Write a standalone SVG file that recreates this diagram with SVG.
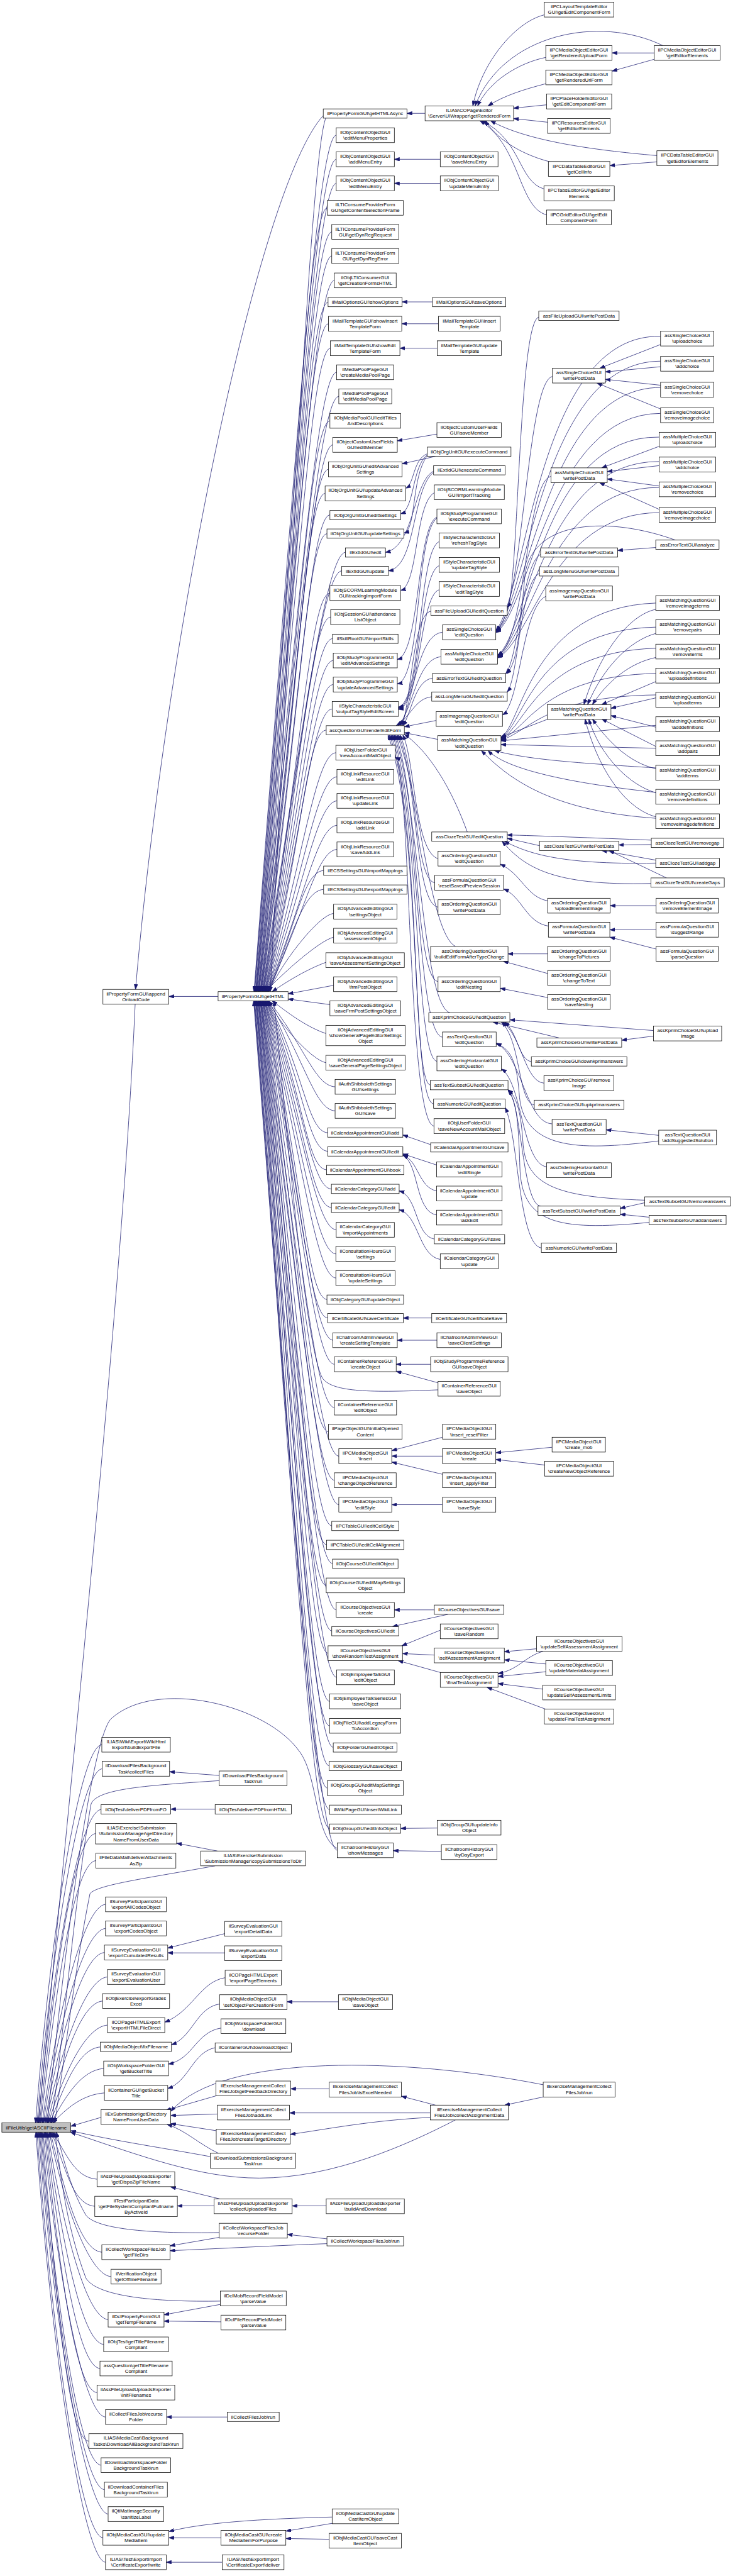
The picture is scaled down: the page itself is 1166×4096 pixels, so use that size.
<svg xmlns="http://www.w3.org/2000/svg" width="1166" height="4096" viewBox="0 0 1166 4096">
<style>
.n rect{fill:#fff;stroke:#000;stroke-width:1.3}
.r rect{fill:#bfbfbf}
.n text{font-family:"Liberation Sans",Arial,Helvetica,sans-serif;font-size:13.3px;text-anchor:middle;fill:#000}
.e path{fill:none;stroke:#191970;stroke-width:1.3;marker-end:url(#ah)}
</style>
<defs>
<marker id="ah" markerWidth="14" markerHeight="10" refX="14" refY="5" orient="auto" markerUnits="userSpaceOnUse"><path d="M0,0 L14,5 L0,10 z" fill="#191970" stroke="#191970" stroke-width="1"/></marker>
</defs>
<rect width="1166" height="4096" fill="#fff"/>
<g transform="scale(0.589)">
<g id="edges" class="e">
<path d="M1148,306 L1099,306"/>
<path d="M1470,40 C1390,60 1300,170 1277,286"/>
<path d="M1790,123 C1620,40 1360,90 1283,286"/>
<path d="M1474,155 C1400,170 1320,220 1290,286"/>
<path d="M1767,143 L1653,143"/>
<path d="M1767,160 L1653,192"/>
<path d="M1474,226 C1420,240 1360,258 1318,286"/>
<path d="M1476,283 L1387,292"/>
<path d="M1479,330 L1387,320"/>
<path d="M1774,420 C1600,405 1420,380 1325,326"/>
<path d="M1486,437 C1420,420 1350,385 1310,326"/>
<path d="M1774,437 L1647,447"/>
<path d="M1469,510 C1400,490 1410,380 1302,326"/>
<path d="M1476,580 C1400,560 1405,390 1296,326"/>
<path d="M1189,430 L1065,430"/>
<path d="M1189,495 L1065,495"/>
<path d="M1168,815 L1086,815"/>
<path d="M1184,874 L1085,874"/>
<path d="M1181,940 L1080,940"/>
<path d="M1180,1172 L1073,1190"/>
<path d="M1176,1232 L1086,1252"/>
<path d="M1154,1225 C1115,1240 1120,1305 1096,1318"/>
<path d="M1154,1228 C1112,1260 1120,1375 1082,1387"/>
<path d="M1154,1230 C1110,1290 1125,1430 1091,1439"/>
<path d="M1171,1272 C1115,1300 1120,1475 1041,1491"/>
<path d="M1171,1275 C1112,1320 1125,1530 1049,1541"/>
<path d="M1173,1330 C1120,1360 1130,1580 1082,1594"/>
<path d="M1180,1396 C1125,1420 1135,1765 1073,1780"/>
<path d="M1180,1399 C1122,1440 1138,1835 1073,1846"/>
<path d="M1186,1462 C1128,1490 1140,1895 1076,1909"/>
<path d="M1186,1527 C1130,1550 1138,1900 1076,1912"/>
<path d="M1186,1592 C1132,1610 1136,1905 1076,1915"/>
<path d="M1164,1650 C1115,1655 1110,1900 1085,1959"/>
<path d="M1195,1707 C1125,1712 1115,1910 1080,1959"/>
<path d="M1191,1773 C1125,1778 1115,1920 1075,1959"/>
<path d="M1168,1831 C1120,1836 1110,1930 1088,1959"/>
<path d="M1166,1881 C1120,1886 1110,1935 1070,1959"/>
<path d="M1178,1945 L1092,1962"/>
<path d="M1182,1996 L1092,1978"/>
<path d="M1262,2246 C1220,2130 1160,2030 1092,1982"/>
<path d="M1183,2318 C1120,2300 1120,2050 1088,1984"/>
<path d="M1174,2383 C1120,2375 1125,2080 1080,1984"/>
<path d="M1183,2449 C1120,2440 1128,2100 1076,1984"/>
<path d="M1230,2555 C1160,2520 1130,2120 1072,1984"/>
<path d="M1183,2650 C1120,2640 1130,2140 1068,1984"/>
<path d="M1215,2734 C1140,2710 1132,2160 1064,1984"/>
<path d="M1195,2800 C1125,2790 1134,2180 1060,1984"/>
<path d="M1180,2865 C1120,2855 1136,2200 1056,1984"/>
<path d="M1162,2929 C1110,2920 1138,2220 1052,1984"/>
<path d="M1171,2980 C1110,2975 1140,2240 1048,1984"/>
<path d="M1455,856 C1400,870 1400,1600 1370,1640"/>
<path d="M1492,1016 C1420,1030 1412,1680 1339,1700"/>
<path d="M1784,930 L1620,994"/>
<path d="M1784,990 L1635,1004"/>
<path d="M1784,1040 L1635,1024"/>
<path d="M1784,1104 L1612,1034"/>
<path d="M1784,908 C1450,900 1425,1600 1339,1702"/>
<path d="M1784,975 C1460,975 1428,1620 1339,1704"/>
<path d="M1784,1046 C1470,1046 1430,1640 1339,1706"/>
<path d="M1784,1116 C1480,1116 1432,1650 1339,1708"/>
<path d="M1488,1286 C1420,1300 1420,1740 1344,1768"/>
<path d="M1780,1205 L1625,1263"/>
<path d="M1780,1257 L1640,1273"/>
<path d="M1780,1312 L1640,1293"/>
<path d="M1780,1375 L1619,1303"/>
<path d="M1780,1180 C1460,1175 1430,1700 1344,1770"/>
<path d="M1780,1246 C1470,1244 1432,1710 1344,1772"/>
<path d="M1780,1316 C1480,1314 1434,1720 1344,1774"/>
<path d="M1780,1384 C1490,1384 1436,1730 1344,1776"/>
<path d="M1460,1497 C1410,1520 1400,1780 1366,1818"/>
<path d="M1771,1478 L1668,1486"/>
<path d="M1824,1458 C1650,1395 1440,1400 1418,1550 C1404,1700 1398,1790 1368,1819"/>
<path d="M1457,1548 C1405,1570 1400,1830 1370,1868"/>
<path d="M1474,1610 C1410,1640 1405,1900 1357,1930"/>
<path d="M1478,1942 L1353,1990"/>
<path d="M1771,1645 C1700,1660 1620,1760 1577,1902"/>
<path d="M1771,1710 C1700,1730 1630,1800 1587,1902"/>
<path d="M1771,1775 C1700,1790 1640,1840 1600,1902"/>
<path d="M1771,1840 L1625,1902"/>
<path d="M1771,1884 L1650,1912"/>
<path d="M1771,1963 L1650,1932"/>
<path d="M1771,2015 L1625,1941"/>
<path d="M1771,2075 C1700,2060 1640,2000 1600,1941"/>
<path d="M1771,2140 C1700,2120 1620,2040 1590,1941"/>
<path d="M1771,2205 C1680,2180 1610,2060 1580,1941"/>
<path d="M1771,1628 C1430,1640 1410,1960 1353,1990"/>
<path d="M1771,1693 C1440,1700 1415,1960 1353,1992"/>
<path d="M1771,1750 C1450,1760 1420,1965 1353,1994"/>
<path d="M1771,1818 C1460,1825 1425,1970 1353,1996"/>
<path d="M1771,1876 C1470,1880 1430,1975 1353,1998"/>
<path d="M1771,1958 L1353,2000"/>
<path d="M1771,2020 L1353,2010"/>
<path d="M1771,2073 C1560,2060 1420,2050 1335,2026"/>
<path d="M1771,2139 C1500,2110 1360,2070 1318,2026"/>
<path d="M1771,2209 C1500,2190 1380,2110 1300,2026"/>
<path d="M1457,2283 L1370,2263"/>
<path d="M1759,2268 C1600,2262 1450,2256 1370,2254"/>
<path d="M1759,2280 L1671,2281"/>
<path d="M1771,2330 C1500,2335 1420,2300 1362,2271"/>
<path d="M1771,2322 L1625,2296"/>
<path d="M1758,2385 C1490,2392 1415,2340 1356,2271"/>
<path d="M1800,2370 L1645,2296"/>
<path d="M1479,2432 C1420,2420 1410,2360 1351,2333"/>
<path d="M1772,2445 L1648,2445"/>
<path d="M1481,2500 C1420,2490 1410,2420 1360,2400"/>
<path d="M1772,2510 L1647,2510"/>
<path d="M1772,2562 L1647,2530"/>
<path d="M1479,2575 L1372,2575"/>
<path d="M1479,2628 L1359,2595"/>
<path d="M1479,2693 L1351,2668"/>
<path d="M1765,2782 L1377,2753"/>
<path d="M1510,2802 L1331,2759"/>
<path d="M1765,2797 L1679,2808"/>
<path d="M1435,2866 C1400,2860 1400,2790 1363,2759"/>
<path d="M1469,2924 C1418,2920 1410,2800 1358,2759"/>
<path d="M1443,2983 C1398,2975 1408,2810 1354,2759"/>
<path d="M1491,3034 C1420,3030 1410,2850 1340,2816"/>
<path d="M1779,3065 L1637,3050"/>
<path d="M1779,3080 C1550,3110 1410,3100 1402,2950 C1396,2870 1380,2830 1340,2818"/>
<path d="M1476,3150 C1410,3140 1410,2920 1354,2886"/>
<path d="M1460,3256 C1410,3250 1410,2980 1372,2942"/>
<path d="M1741,3247 L1675,3262"/>
<path d="M1753,3286 L1675,3278"/>
<path d="M1741,3240 C1500,3232 1418,3200 1412,3080 C1406,2990 1392,2958 1372,2942"/>
<path d="M1753,3300 C1500,3325 1408,3300 1404,3150 C1400,3020 1394,2970 1372,2944"/>
<path d="M1462,3369 C1400,3360 1400,3060 1364,2990"/>
<path d="M1172,3040 C1100,3030 1110,2060 1067,2045"/>
<path d="M1163,3090 L1088,3064"/>
<path d="M1179,3145 L1088,3115"/>
<path d="M1179,3215 C1130,3205 1130,3132 1088,3118"/>
<path d="M1179,3280 C1120,3270 1132,3140 1088,3119"/>
<path d="M1173,3345 C1120,3335 1130,3230 1078,3215"/>
<path d="M1189,3400 C1130,3390 1132,3280 1078,3266"/>
<path d="M1166,3558 L1089,3558"/>
<path d="M1180,3618 L1073,3618"/>
<path d="M1163,3683 L1070,3683"/>
<path d="M1183,3733 L1070,3702"/>
<path d="M1183,3752 C1000,3760 900,3758 872,3722 C825,3650 770,3000 740,2702"/>
<path d="M1195,3880 L1058,3916"/>
<path d="M1195,3931 L1058,3931"/>
<path d="M1195,3980 L1058,3947"/>
<path d="M1491,3907 L1339,3922"/>
<path d="M1471,3955 L1339,3940"/>
<path d="M1195,4062 L1058,4062"/>
<path d="M1173,4346 L1065,4346"/>
<path d="M1210,4358 L1060,4391"/>
<path d="M1189,4401 L1085,4443"/>
<path d="M1173,4468 L1087,4464"/>
<path d="M1189,4515 L1075,4483"/>
<path d="M1449,4451 L1362,4459"/>
<path d="M1474,4492 L1362,4481"/>
<path d="M1467,4458 C1420,4470 1400,4508 1345,4518"/>
<path d="M1474,4513 L1345,4526"/>
<path d="M1466,4560 L1345,4545"/>
<path d="M1479,4616 L1315,4555"/>
<path d="M1181,4935 L1082,4936"/>
<path d="M1192,4998 L1062,4996"/>
<path d="M914,5404 L775,5404"/>
<path d="M1467,5661 L1363,5683"/>
<path d="M1176,5683 L1084,5659"/>
<path d="M1162,5704 L782,5704"/>
<path d="M1162,5716 C1000,5725 900,5745 784,5762"/>
<path d="M1230,5723 C1100,5790 900,5880 700,5880 C540,5880 380,5820 190,5756"/>
<path d="M1467,5628 C1100,5555 600,5540 461,5700"/>
<path d="M889,5639 L785,5639"/>
<path d="M590,5656 L448,5697"/>
<path d="M587,5707 L461,5711"/>
<path d="M584,5752 L461,5733"/>
<path d="M590,5813 C540,5790 500,5750 451,5735"/>
<path d="M568,5822 C450,5800 300,5778 191,5752"/>
<path d="M273,5716 L191,5740"/>
<path d="M592,4793 L458,4783"/>
<path d="M592,4807 C400,4820 262,4828 246,4870 C205,5100 170,5500 140,5731"/>
<path d="M581,4884 L461,4884"/>
<path d="M587,4997 L477,4976"/>
<path d="M581,5037 C400,5070 262,5088 243,5112 C205,5300 175,5550 148,5731"/>
<path d="M607,5220 L453,5259"/>
<path d="M607,5272 L453,5272"/>
<path d="M608,5339 C540,5350 520,5430 445,5459"/>
<path d="M593,5410 C530,5420 520,5500 463,5520"/>
<path d="M597,5475 C530,5485 520,5560 455,5572"/>
<path d="M581,5528 C520,5540 510,5620 453,5638"/>
<path d="M911,4990 C850,4960 860,4800 810,4730 C720,4600 420,4530 300,4640 C250,4690 180,5200 128,5731"/>
<path d="M880,318 C840,420 790,1500 730,2677"/>
<path d="M873,312 C700,500 450,1700 366,2671"/>
<path d="M589,2690 L456,2690"/>
<path d="M365,2711 C330,3500 200,4700 104,5731"/>
<path d="M593,5936 L461,5904"/>
<path d="M578,5955 L479,5955"/>
<path d="M881,5955 L789,5955"/>
<path d="M592,6027 C420,6030 262,6020 232,5980 C185,5900 165,5800 152,5756"/>
<path d="M592,6040 L459,6063"/>
<path d="M883,6057 C750,6062 600,6070 459,6076"/>
<path d="M883,6044 L776,6032"/>
<path d="M595,6212 C420,6215 262,6200 232,6150 C175,6000 162,5850 148,5756"/>
<path d="M595,6221 L443,6249"/>
<path d="M597,6268 L443,6266"/>
<path d="M614,6525 L450,6525"/>
<path d="M897,6795 C700,6800 550,6810 456,6834"/>
<path d="M897,6812 L772,6833"/>
<path d="M889,6855 L772,6853"/>
<path d="M597,6851 L456,6851"/>
<path d="M600,6917 L449,6917"/>
<path d="M275,4710 C215,4715 136,5220 96,5731"/>
<path d="M276,4775 C216,4780 140,5253 100,5731"/>
<path d="M273,4885 C213,4890 143,5308 103,5731"/>
<path d="M258,4950 C198,4955 147,5341 107,5731"/>
<path d="M259,5023 C199,5028 150,5377 110,5731"/>
<path d="M285,5141 C225,5146 154,5436 114,5731"/>
<path d="M285,5206 C225,5211 157,5468 117,5731"/>
<path d="M282,5271 C222,5276 161,5501 121,5731"/>
<path d="M290,5337 C230,5342 164,5534 124,5731"/>
<path d="M277,5402 C217,5407 168,5566 128,5731"/>
<path d="M290,5467 C230,5472 171,5599 131,5731"/>
<path d="M271,5526 C211,5531 175,5629 135,5731"/>
<path d="M280,5584 C220,5589 178,5657 138,5731"/>
<path d="M282,5650 C222,5655 182,5690 142,5731"/>
<path d="M262,5883 C202,5878 182,5819 142,5756"/>
<path d="M256,5956 C196,5951 179,5856 139,5756"/>
<path d="M275,6080 C215,6075 176,5918 136,5756"/>
<path d="M300,6146 C240,6141 173,5951 133,5756"/>
<path d="M292,6262 C232,6257 169,6009 129,5756"/>
<path d="M280,6329 C220,6324 166,6042 126,5756"/>
<path d="M270,6394 C210,6389 163,6075 123,5756"/>
<path d="M262,6459 C202,6454 160,6107 120,5756"/>
<path d="M285,6525 C225,6520 156,6140 116,5756"/>
<path d="M240,6590 C180,6585 153,6173 113,5756"/>
<path d="M273,6655 C213,6650 150,6206 110,5756"/>
<path d="M282,6721 C222,6716 147,6238 107,5756"/>
<path d="M292,6787 C232,6782 144,6271 104,5756"/>
<path d="M278,6851 C218,6846 140,6303 100,5756"/>
<path d="M285,6917 C225,6912 137,6336 97,5756"/>
<path d="M908,365 C853,369 786,1405 686,2677"/>
<path d="M908,430 C853,434 787,1441 687,2677"/>
<path d="M908,495 C853,499 788,1477 688,2677"/>
<path d="M884,561 C829,565 790,1513 690,2677"/>
<path d="M896,626 C841,630 791,1549 691,2677"/>
<path d="M896,691 C841,695 792,1585 692,2677"/>
<path d="M903,757 C848,761 793,1621 693,2677"/>
<path d="M886,816 C831,820 794,1654 694,2677"/>
<path d="M887,874 C832,878 796,1685 696,2677"/>
<path d="M892,940 C837,944 797,1722 697,2677"/>
<path d="M909,1005 C854,1009 798,1757 698,2677"/>
<path d="M915,1070 C860,1074 799,1793 699,2677"/>
<path d="M891,1136 C836,1140 800,1829 700,2677"/>
<path d="M899,1201 C844,1205 802,1865 702,2677"/>
<path d="M887,1267 C832,1271 803,1902 703,2677"/>
<path d="M878,1332 C823,1336 804,1937 704,2677"/>
<path d="M891,1390 C836,1394 805,1969 705,2677"/>
<path d="M883,1441 C828,1445 806,1997 706,2677"/>
<path d="M933,1491 C878,1495 808,2025 708,2677"/>
<path d="M923,1541 C868,1545 809,2052 709,2677"/>
<path d="M891,1601 C836,1605 810,2085 710,2677"/>
<path d="M893,1666 C838,1670 811,2121 711,2677"/>
<path d="M898,1724 C843,1728 812,2153 712,2677"/>
<path d="M900,1783 C845,1787 814,2185 714,2677"/>
<path d="M900,1848 C845,1852 815,2221 715,2677"/>
<path d="M897,1914 C842,1918 816,2257 716,2677"/>
<path d="M881,1971 C826,1975 817,2289 717,2677"/>
<path d="M907,2032 C852,2036 818,2322 718,2677"/>
<path d="M910,2097 C855,2101 820,2358 720,2677"/>
<path d="M910,2162 C855,2166 821,2394 721,2677"/>
<path d="M910,2228 C855,2232 822,2430 722,2677"/>
<path d="M910,2293 C855,2297 823,2466 723,2677"/>
<path d="M874,2350 C819,2354 800,2497 724,2677"/>
<path d="M874,2401 C819,2405 790,2525 726,2677"/>
<path d="M901,2466 C860,2470 760,2600 726,2677"/>
<path d="M901,2530 C860,2540 750,2640 718,2677"/>
<path d="M880,2598 C820,2620 760,2660 735,2677"/>
<path d="M901,2660 L778,2683"/>
<path d="M891,2712 L778,2697"/>
<path d="M880,2790 C820,2770 760,2720 735,2702"/>
<path d="M880,2869 C840,2860 750,2760 726,2702"/>
<path d="M905,2934 C850,2930 826,2830 726,2702"/>
<path d="M905,2999 C850,2995 825,2865 725,2702"/>
<path d="M885,3058 C830,3054 823,2898 723,2702"/>
<path d="M885,3108 C830,3104 822,2925 722,2702"/>
<path d="M882,3158 C827,3154 821,2953 721,2702"/>
<path d="M895,3210 C840,3206 820,2981 720,2702"/>
<path d="M895,3260 C840,3256 819,3009 719,2702"/>
<path d="M908,3320 C853,3316 817,3042 717,2702"/>
<path d="M907,3385 C852,3381 816,3078 716,2702"/>
<path d="M907,3450 C852,3446 815,3113 715,2702"/>
<path d="M883,3508 C828,3504 814,3145 714,2702"/>
<path d="M885,3558 C830,3554 812,3173 712,2702"/>
<path d="M899,3618 C844,3614 811,3206 711,2702"/>
<path d="M903,3683 C848,3679 810,3242 710,2702"/>
<path d="M903,3800 C848,3796 809,3306 709,2702"/>
<path d="M887,3865 C832,3861 808,3342 708,2702"/>
<path d="M915,3931 C860,3927 806,3378 706,2702"/>
<path d="M903,3996 C848,3992 805,3414 705,2702"/>
<path d="M915,4062 C860,4058 804,3450 704,2702"/>
<path d="M896,4119 C841,4115 803,3481 703,2702"/>
<path d="M882,4170 C827,4166 802,3509 702,2702"/>
<path d="M898,4221 C843,4217 800,3537 700,2702"/>
<path d="M881,4280 C826,4276 799,3570 699,2702"/>
<path d="M908,4346 C853,4342 798,3606 698,2702"/>
<path d="M896,4403 C841,4399 797,3638 697,2702"/>
<path d="M886,4463 C831,4459 796,3671 696,2702"/>
<path d="M909,4528 C854,4524 794,3706 694,2702"/>
<path d="M890,4593 C835,4589 793,3742 693,2702"/>
<path d="M890,4659 C835,4655 792,3778 692,2702"/>
<path d="M900,4717 C845,4713 791,3810 691,2702"/>
<path d="M889,4767 C834,4763 790,3838 690,2702"/>
<path d="M884,4827 C829,4823 788,3871 688,2702"/>
<path d="M890,4885 C835,4881 787,3903 687,2702"/>
<path d="M890,4936 C835,4932 786,3931 686,2702"/>
<path d="M911,4995 C856,4991 785,3963 685,2702"/>
</g>
<g id="nodes">
<g id="root" class="n r"><rect x="5" y="5731" width="186" height="25"/><text x="98" y="5748">ilFileUtils\getASCIIFilename</text></g>
<g id="A1" class="n"><rect x="278" y="2671" width="178" height="40"/><text x="367" y="2687.5">ilPropertyFormGUI\append</text><text x="367" y="2703">OnloadCode</text></g>
<g id="B1" class="n"><rect x="275" y="4690" width="185" height="40"/><text x="367.5" y="4706.5">ILIAS\Wiki\Export\WikiHtml</text><text x="367.5" y="4722">Export\buildExportFile</text></g>
<g id="B2" class="n"><rect x="276" y="4755" width="182" height="40"/><text x="367" y="4771.5">ilDownloadFilesBackground</text><text x="367" y="4787">Task\collectFiles</text></g>
<g id="B3" class="n"><rect x="273" y="4872" width="188" height="25"/><text x="367" y="4889">ilObjTest\deliverPDFfromFO</text></g>
<g id="B4" class="n"><rect x="258" y="4923" width="219" height="55"/><text x="367.5" y="4939.5">ILIAS\Exercise\Submission</text><text x="367.5" y="4955">\SubmissionManager\getDirectory</text><text x="367.5" y="4970.5">NameFromUserData</text></g>
<g id="B5" class="n"><rect x="259" y="5003" width="216" height="40"/><text x="367" y="5019.5">ilFileDataMail\deliverAttachments</text><text x="367" y="5035">AsZip</text></g>
<g id="B6" class="n"><rect x="285" y="5121" width="164" height="40"/><text x="367" y="5137.5">ilSurveyParticipantsGUI</text><text x="367" y="5153">\exportAllCodesObject</text></g>
<g id="B7" class="n"><rect x="285" y="5186" width="164" height="40"/><text x="367" y="5202.5">ilSurveyParticipantsGUI</text><text x="367" y="5218">\exportCodesObject</text></g>
<g id="B8" class="n"><rect x="282" y="5251" width="171" height="40"/><text x="367.5" y="5267.5">ilSurveyEvaluationGUI</text><text x="367.5" y="5283">\exportCumulatedResults</text></g>
<g id="B9" class="n"><rect x="290" y="5317" width="155" height="40"/><text x="367.5" y="5333.5">ilSurveyEvaluationGUI</text><text x="367.5" y="5349">\exportEvaluationUser</text></g>
<g id="B10" class="n"><rect x="277" y="5382" width="181" height="40"/><text x="367.5" y="5398.5">ilObjExercise\exportGrades</text><text x="367.5" y="5414">Excel</text></g>
<g id="B11" class="n"><rect x="290" y="5447" width="155" height="40"/><text x="367.5" y="5463.5">ilCOPageHTMLExport</text><text x="367.5" y="5479">\exportHTMLFileDirect</text></g>
<g id="B12" class="n"><rect x="271" y="5513" width="192" height="25"/><text x="367" y="5530">ilObjMediaObject\fixFilename</text></g>
<g id="B13" class="n"><rect x="280" y="5564" width="175" height="40"/><text x="367.5" y="5580.5">ilObjWorkspaceFolderGUI</text><text x="367.5" y="5596">\getBucketTitle</text></g>
<g id="B14" class="n"><rect x="282" y="5630" width="171" height="40"/><text x="367.5" y="5646.5">ilContainerGUI\getBucket</text><text x="367.5" y="5662">Title</text></g>
<g id="B15" class="n"><rect x="273" y="5695" width="188" height="40"/><text x="367" y="5711.5">ilExSubmission\getDirectory</text><text x="367" y="5727">NameFromUserData</text></g>
<g id="B16" class="n"><rect x="262" y="5863" width="210" height="40"/><text x="367" y="5879.5">ilAssFileUploadUploadsExporter</text><text x="367" y="5895">\getDispoZipFileName</text></g>
<g id="B17" class="n"><rect x="256" y="5929" width="223" height="55"/><text x="367.5" y="5945.5">ilTestParticipantData</text><text x="367.5" y="5961">\getFileSystemCompliantFullname</text><text x="367.5" y="5976.5">ByActiveId</text></g>
<g id="B18" class="n"><rect x="275" y="6060" width="184" height="40"/><text x="367" y="6076.5">ilCollectWorkspaceFilesJob</text><text x="367" y="6092">\getFileDirs</text></g>
<g id="B19" class="n"><rect x="300" y="6126" width="135" height="40"/><text x="367.5" y="6142.5">ilVerificationObject</text><text x="367.5" y="6158">\getOfflineFilename</text></g>
<g id="B20" class="n"><rect x="292" y="6242" width="151" height="40"/><text x="367.5" y="6258.5">ilDclPropertyFormGUI</text><text x="367.5" y="6274">\getTempFilename</text></g>
<g id="B21" class="n"><rect x="280" y="6309" width="175" height="40"/><text x="367.5" y="6325.5">ilObjTest\getTitleFilename</text><text x="367.5" y="6341">Compliant</text></g>
<g id="B22" class="n"><rect x="270" y="6374" width="195" height="40"/><text x="367.5" y="6390.5">assQuestion\getTitleFilename</text><text x="367.5" y="6406">Compliant</text></g>
<g id="B23" class="n"><rect x="262" y="6439" width="210" height="40"/><text x="367" y="6455.5">ilAssFileUploadUploadsExporter</text><text x="367" y="6471">\initFilenames</text></g>
<g id="B24" class="n"><rect x="285" y="6505" width="165" height="40"/><text x="367.5" y="6521.5">ilCollectFilesJob\recurse</text><text x="367.5" y="6537">Folder</text></g>
<g id="B25" class="n"><rect x="240" y="6570" width="254" height="40"/><text x="367" y="6586.5">ILIAS\MediaCast\Background</text><text x="367" y="6602">Tasks\DownloadAllBackgroundTask\run</text></g>
<g id="B26" class="n"><rect x="273" y="6635" width="188" height="40"/><text x="367" y="6651.5">ilDownloadWorkspaceFolder</text><text x="367" y="6667">BackgroundTask\run</text></g>
<g id="B27" class="n"><rect x="282" y="6701" width="170" height="40"/><text x="367" y="6717.5">ilDownloadContainerFiles</text><text x="367" y="6733">BackgroundTask\run</text></g>
<g id="B28" class="n"><rect x="292" y="6767" width="150" height="40"/><text x="367" y="6783.5">ilQtiMatImageSecurity</text><text x="367" y="6799">\sanitizeLabel</text></g>
<g id="B29" class="n"><rect x="278" y="6831" width="178" height="40"/><text x="367" y="6847.5">ilObjMediaCastGUI\update</text><text x="367" y="6863">MediaItem</text></g>
<g id="B30" class="n"><rect x="285" y="6897" width="164" height="40"/><text x="367" y="6913.5">ILIAS\Test\ExportImport</text><text x="367" y="6929">\CertificateExport\write</text></g>
<g id="G" class="n"><rect x="589" y="2677" width="189" height="25"/><text x="683.5" y="2694">ilPropertyFormGUI\getHTML</text></g>
<g id="C1" class="n"><rect x="592" y="4781" width="183" height="40"/><text x="683.5" y="4797.5">ilDownloadFilesBackground</text><text x="683.5" y="4813">Task\run</text></g>
<g id="C2" class="n"><rect x="581" y="4872" width="206" height="25"/><text x="684" y="4889">ilObjTest\deliverPDFfromHTML</text></g>
<g id="C3" class="n"><rect x="542" y="4997" width="283" height="40"/><text x="683.5" y="5013.5">ILIAS\Exercise\Submission</text><text x="683.5" y="5029">\SubmissionManager\copySubmissionsToDir</text></g>
<g id="C4" class="n"><rect x="607" y="5187" width="154" height="40"/><text x="684" y="5203.5">ilSurveyEvaluationGUI</text><text x="684" y="5219">\exportDetailData</text></g>
<g id="C5" class="n"><rect x="607" y="5253" width="154" height="40"/><text x="684" y="5269.5">ilSurveyEvaluationGUI</text><text x="684" y="5285">\exportData</text></g>
<g id="C6" class="n"><rect x="608" y="5319" width="152" height="40"/><text x="684" y="5335.5">ilCOPageHTMLExport</text><text x="684" y="5351">\exportPageElements</text></g>
<g id="C7" class="n"><rect x="593" y="5385" width="182" height="40"/><text x="684" y="5401.5">ilObjMediaObjectGUI</text><text x="684" y="5417">\setObjectPerCreationForm</text></g>
<g id="C8" class="n"><rect x="597" y="5450" width="175" height="40"/><text x="684.5" y="5466.5">ilObjWorkspaceFolderGUI</text><text x="684.5" y="5482">\download</text></g>
<g id="C9" class="n"><rect x="581" y="5515" width="206" height="25"/><text x="684" y="5532">ilContainerGUI\downloadObject</text></g>
<g id="C10" class="n"><rect x="583" y="5618" width="202" height="40"/><text x="684" y="5634.5">ilExerciseManagementCollect</text><text x="684" y="5650">FilesJob\getFeedbackDirectory</text></g>
<g id="C11" class="n"><rect x="587" y="5683" width="195" height="40"/><text x="684.5" y="5699.5">ilExerciseManagementCollect</text><text x="684.5" y="5715">FilesJob\addLink</text></g>
<g id="C12" class="n"><rect x="584" y="5748" width="200" height="40"/><text x="684" y="5764.5">ilExerciseManagementCollect</text><text x="684" y="5780">FilesJob\createTargetDirectory</text></g>
<g id="C13" class="n"><rect x="568" y="5813" width="231" height="40"/><text x="683.5" y="5829.5">ilDownloadSubmissionsBackground</text><text x="683.5" y="5845">Task\run</text></g>
<g id="C14" class="n"><rect x="578" y="5936" width="211" height="40"/><text x="683.5" y="5952.5">ilAssFileUploadUploadsExporter</text><text x="683.5" y="5968">\collectUploadedFiles</text></g>
<g id="C15" class="n"><rect x="592" y="6002" width="184" height="40"/><text x="684" y="6018.5">ilCollectWorkspaceFilesJob</text><text x="684" y="6034">\recurseFolder</text></g>
<g id="C16" class="n"><rect x="595" y="6185" width="178" height="40"/><text x="684" y="6201.5">ilDclMobRecordFieldModel</text><text x="684" y="6217">\parseValue</text></g>
<g id="C17" class="n"><rect x="597" y="6250" width="175" height="40"/><text x="684.5" y="6266.5">ilDclFileRecordFieldModel</text><text x="684.5" y="6282">\parseValue</text></g>
<g id="C18" class="n"><rect x="614" y="6512" width="140" height="25"/><text x="684" y="6529">ilCollectFilesJob\run</text></g>
<g id="C19" class="n"><rect x="597" y="6831" width="175" height="40"/><text x="684.5" y="6847.5">ilObjMediaCastGUI\create</text><text x="684.5" y="6863">MediaItemForPurpose</text></g>
<g id="C20" class="n"><rect x="600" y="6897" width="167" height="40"/><text x="683.5" y="6913.5">ILIAS\Test\ExportImport</text><text x="683.5" y="6929">\CertificateExport\deliver</text></g>
<g id="H" class="n"><rect x="873" y="294" width="226" height="25"/><text x="986" y="311">ilPropertyFormGUI\getHTMLAsync</text></g>
<g id="D1" class="n"><rect x="908" y="345" width="157" height="40"/><text x="986.5" y="361.5">ilObjContentObjectGUI</text><text x="986.5" y="377">\editMenuProperties</text></g>
<g id="D2" class="n"><rect x="908" y="410" width="157" height="40"/><text x="986.5" y="426.5">ilObjContentObjectGUI</text><text x="986.5" y="442">\addMenuEntry</text></g>
<g id="D3" class="n"><rect x="908" y="475" width="157" height="40"/><text x="986.5" y="491.5">ilObjContentObjectGUI</text><text x="986.5" y="507">\editMenuEntry</text></g>
<g id="D4" class="n"><rect x="884" y="541" width="205" height="40"/><text x="986.5" y="557.5">ilLTIConsumeProviderForm</text><text x="986.5" y="573">GUI\getContentSelectionFrame</text></g>
<g id="D5" class="n"><rect x="896" y="606" width="181" height="40"/><text x="986.5" y="622.5">ilLTIConsumeProviderForm</text><text x="986.5" y="638">GUI\getDynRegRequest</text></g>
<g id="D6" class="n"><rect x="896" y="671" width="181" height="40"/><text x="986.5" y="687.5">ilLTIConsumeProviderForm</text><text x="986.5" y="703">GUI\getDynRegError</text></g>
<g id="D7" class="n"><rect x="903" y="737" width="167" height="40"/><text x="986.5" y="753.5">ilObjLTIConsumerGUI</text><text x="986.5" y="769">\getCreationFormsHTML</text></g>
<g id="D8" class="n"><rect x="886" y="803" width="200" height="25"/><text x="986" y="820">ilMailOptionsGUI\showOptions</text></g>
<g id="D9" class="n"><rect x="887" y="854" width="198" height="40"/><text x="986" y="870.5">ilMailTemplateGUI\showInsert</text><text x="986" y="886">TemplateForm</text></g>
<g id="D10" class="n"><rect x="892" y="920" width="188" height="40"/><text x="986" y="936.5">ilMailTemplateGUI\showEdit</text><text x="986" y="952">TemplateForm</text></g>
<g id="D11" class="n"><rect x="909" y="985" width="154" height="40"/><text x="986" y="1001.5">ilMediaPoolPageGUI</text><text x="986" y="1017">\createMediaPoolPage</text></g>
<g id="D12" class="n"><rect x="915" y="1050" width="143" height="40"/><text x="986.5" y="1066.5">ilMediaPoolPageGUI</text><text x="986.5" y="1082">\editMediaPoolPage</text></g>
<g id="D13" class="n"><rect x="891" y="1116" width="191" height="40"/><text x="986.5" y="1132.5">ilObjMediaPoolGUI\editTitles</text><text x="986.5" y="1148">AndDescriptions</text></g>
<g id="D14" class="n"><rect x="899" y="1181" width="174" height="40"/><text x="986" y="1197.5">ilObjectCustomUserFields</text><text x="986" y="1213">GUI\editMember</text></g>
<g id="D15" class="n"><rect x="887" y="1247" width="199" height="40"/><text x="986.5" y="1263.5">ilObjOrgUnitGUI\editAdvanced</text><text x="986.5" y="1279">Settings</text></g>
<g id="D16" class="n"><rect x="878" y="1312" width="218" height="40"/><text x="987" y="1328.5">ilObjOrgUnitGUI\updateAdvanced</text><text x="987" y="1344">Settings</text></g>
<g id="D17" class="n"><rect x="891" y="1378" width="191" height="25"/><text x="986.5" y="1395">ilObjOrgUnitGUI\editSettings</text></g>
<g id="D18" class="n"><rect x="883" y="1428" width="208" height="25"/><text x="987" y="1445">ilObjOrgUnitGUI\updateSettings</text></g>
<g id="D19" class="n"><rect x="933" y="1479" width="108" height="25"/><text x="987" y="1496">ilExtIdGUI\edit</text></g>
<g id="D20" class="n"><rect x="923" y="1529" width="126" height="25"/><text x="986" y="1546">ilExtIdGUI\update</text></g>
<g id="D21" class="n"><rect x="891" y="1581" width="191" height="40"/><text x="986.5" y="1597.5">ilObjSCORMLearningModule</text><text x="986.5" y="1613">GUI\trackingImportForm</text></g>
<g id="D22" class="n"><rect x="893" y="1646" width="187" height="40"/><text x="986.5" y="1662.5">ilObjSessionGUI\attendance</text><text x="986.5" y="1678">ListObject</text></g>
<g id="D23" class="n"><rect x="898" y="1712" width="177" height="25"/><text x="986.5" y="1729">ilSkillRootGUI\importSkills</text></g>
<g id="D24" class="n"><rect x="900" y="1763" width="173" height="40"/><text x="986.5" y="1779.5">ilObjStudyProgrammeGUI</text><text x="986.5" y="1795">\editAdvancedSettings</text></g>
<g id="D25" class="n"><rect x="900" y="1828" width="173" height="40"/><text x="986.5" y="1844.5">ilObjStudyProgrammeGUI</text><text x="986.5" y="1860">\updateAdvancedSettings</text></g>
<g id="D26" class="n"><rect x="897" y="1894" width="179" height="40"/><text x="986.5" y="1910.5">ilStyleCharacteristicGUI</text><text x="986.5" y="1926">\outputTagStyleEditScreen</text></g>
<g id="D27" class="n"><rect x="881" y="1959" width="211" height="25"/><text x="986.5" y="1976">assQuestionGUI\renderEditForm</text></g>
<g id="D28" class="n"><rect x="907" y="2012" width="160" height="40"/><text x="987" y="2028.5">ilObjUserFolderGUI</text><text x="987" y="2044">\newAccountMailObject</text></g>
<g id="D29" class="n"><rect x="910" y="2077" width="153" height="40"/><text x="986.5" y="2093.5">ilObjLinkResourceGUI</text><text x="986.5" y="2109">\editLink</text></g>
<g id="D30" class="n"><rect x="910" y="2142" width="153" height="40"/><text x="986.5" y="2158.5">ilObjLinkResourceGUI</text><text x="986.5" y="2174">\updateLink</text></g>
<g id="D31" class="n"><rect x="910" y="2208" width="153" height="40"/><text x="986.5" y="2224.5">ilObjLinkResourceGUI</text><text x="986.5" y="2240">\addLink</text></g>
<g id="D32" class="n"><rect x="910" y="2273" width="153" height="40"/><text x="986.5" y="2289.5">ilObjLinkResourceGUI</text><text x="986.5" y="2305">\saveAddLink</text></g>
<g id="D33" class="n"><rect x="874" y="2338" width="225" height="25"/><text x="986.5" y="2355">ilECSSettingsGUI\importMappings</text></g>
<g id="D34" class="n"><rect x="874" y="2389" width="225" height="25"/><text x="986.5" y="2406">ilECSSettingsGUI\exportMappings</text></g>
<g id="D35" class="n"><rect x="901" y="2441" width="171" height="40"/><text x="986.5" y="2457.5">ilObjAdvancedEditingGUI</text><text x="986.5" y="2473">\settingsObject</text></g>
<g id="D36" class="n"><rect x="901" y="2506" width="171" height="40"/><text x="986.5" y="2522.5">ilObjAdvancedEditingGUI</text><text x="986.5" y="2538">\assessmentObject</text></g>
<g id="D37" class="n"><rect x="880" y="2572" width="212" height="40"/><text x="986" y="2588.5">ilObjAdvancedEditingGUI</text><text x="986" y="2604">\saveAssessmentSettingsObject</text></g>
<g id="D38" class="n"><rect x="901" y="2637" width="171" height="40"/><text x="986.5" y="2653.5">ilObjAdvancedEditingGUI</text><text x="986.5" y="2669">\frmPostObject</text></g>
<g id="D39" class="n"><rect x="891" y="2702" width="191" height="40"/><text x="986.5" y="2718.5">ilObjAdvancedEditingGUI</text><text x="986.5" y="2734">\saveFrmPostSettingsObject</text></g>
<g id="D40" class="n"><rect x="880" y="2768" width="214" height="55"/><text x="987" y="2784.5">ilObjAdvancedEditingGUI</text><text x="987" y="2800">\showGeneralPageEditorSettings</text><text x="987" y="2815.5">Object</text></g>
<g id="D41" class="n"><rect x="880" y="2849" width="214" height="40"/><text x="987" y="2865.5">ilObjAdvancedEditingGUI</text><text x="987" y="2881">\saveGeneralPageSettingsObject</text></g>
<g id="D42" class="n"><rect x="905" y="2914" width="163" height="40"/><text x="986.5" y="2930.5">ilAuthShibbolethSettings</text><text x="986.5" y="2946">GUI\settings</text></g>
<g id="D43" class="n"><rect x="905" y="2979" width="163" height="40"/><text x="986.5" y="2995.5">ilAuthShibbolethSettings</text><text x="986.5" y="3011">GUI\save</text></g>
<g id="D44" class="n"><rect x="885" y="3045" width="203" height="25"/><text x="986.5" y="3062">ilCalendarAppointmentGUI\add</text></g>
<g id="D45" class="n"><rect x="885" y="3096" width="203" height="25"/><text x="986.5" y="3113">ilCalendarAppointmentGUI\edit</text></g>
<g id="D46" class="n"><rect x="882" y="3146" width="209" height="25"/><text x="986.5" y="3163">ilCalendarAppointmentGUI\book</text></g>
<g id="D47" class="n"><rect x="895" y="3197" width="183" height="25"/><text x="986.5" y="3214">ilCalendarCategoryGUI\add</text></g>
<g id="D48" class="n"><rect x="895" y="3248" width="183" height="25"/><text x="986.5" y="3265">ilCalendarCategoryGUI\edit</text></g>
<g id="D49" class="n"><rect x="908" y="3300" width="157" height="40"/><text x="986.5" y="3316.5">ilCalendarCategoryGUI</text><text x="986.5" y="3332">\importAppointments</text></g>
<g id="D50" class="n"><rect x="907" y="3365" width="160" height="40"/><text x="987" y="3381.5">ilConsultationHoursGUI</text><text x="987" y="3397">\settings</text></g>
<g id="D51" class="n"><rect x="907" y="3430" width="160" height="40"/><text x="987" y="3446.5">ilConsultationHoursGUI</text><text x="987" y="3462">\updateSettings</text></g>
<g id="D52" class="n"><rect x="883" y="3496" width="207" height="25"/><text x="986.5" y="3513">ilObjCategoryGUI\updateObject</text></g>
<g id="D53" class="n"><rect x="885" y="3546" width="204" height="25"/><text x="987" y="3563">ilCertificateGUI\saveCertificate</text></g>
<g id="D54" class="n"><rect x="899" y="3598" width="174" height="40"/><text x="986" y="3614.5">ilChatroomAdminViewGUI</text><text x="986" y="3630">\createSettingTemplate</text></g>
<g id="D55" class="n"><rect x="903" y="3663" width="167" height="40"/><text x="986.5" y="3679.5">ilContainerReferenceGUI</text><text x="986.5" y="3695">\createObject</text></g>
<g id="D56" class="n"><rect x="903" y="3780" width="168" height="40"/><text x="987" y="3796.5">ilContainerReferenceGUI</text><text x="987" y="3812">\editObject</text></g>
<g id="D57" class="n"><rect x="887" y="3845" width="199" height="40"/><text x="986.5" y="3861.5">ilPageObjectGUI\initialOpened</text><text x="986.5" y="3877">Content</text></g>
<g id="D58" class="n"><rect x="915" y="3911" width="143" height="40"/><text x="986.5" y="3927.5">ilPCMediaObjectGUI</text><text x="986.5" y="3943">\insert</text></g>
<g id="D59" class="n"><rect x="903" y="3976" width="167" height="40"/><text x="986.5" y="3992.5">ilPCMediaObjectGUI</text><text x="986.5" y="4008">\changeObjectReference</text></g>
<g id="D60" class="n"><rect x="915" y="4042" width="143" height="40"/><text x="986.5" y="4058.5">ilPCMediaObjectGUI</text><text x="986.5" y="4074">\editStyle</text></g>
<g id="D61" class="n"><rect x="896" y="4107" width="181" height="25"/><text x="986.5" y="4124">ilPCTableGUI\editCellStyle</text></g>
<g id="D62" class="n"><rect x="882" y="4158" width="209" height="25"/><text x="986.5" y="4175">ilPCTableGUI\editCellAlignment</text></g>
<g id="D63" class="n"><rect x="898" y="4209" width="177" height="25"/><text x="986.5" y="4226">ilObjCourseGUI\editObject</text></g>
<g id="D64" class="n"><rect x="881" y="4260" width="211" height="40"/><text x="986.5" y="4276.5">ilObjCourseGUI\editMapSettings</text><text x="986.5" y="4292">Object</text></g>
<g id="D65" class="n"><rect x="908" y="4326" width="157" height="40"/><text x="986.5" y="4342.5">ilCourseObjectivesGUI</text><text x="986.5" y="4358">\create</text></g>
<g id="D66" class="n"><rect x="896" y="4391" width="181" height="25"/><text x="986.5" y="4408">ilCourseObjectivesGUI\edit</text></g>
<g id="D67" class="n"><rect x="886" y="4443" width="201" height="40"/><text x="986.5" y="4459.5">ilCourseObjectivesGUI</text><text x="986.5" y="4475">\showRandomTestAssignment</text></g>
<g id="D68" class="n"><rect x="909" y="4508" width="156" height="40"/><text x="987" y="4524.5">ilObjEmployeeTalkGUI</text><text x="987" y="4540">\editObject</text></g>
<g id="D69" class="n"><rect x="890" y="4573" width="192" height="40"/><text x="986" y="4589.5">ilObjEmployeeTalkSeriesGUI</text><text x="986" y="4605">\saveObject</text></g>
<g id="D70" class="n"><rect x="890" y="4639" width="192" height="40"/><text x="986" y="4655.5">ilObjFileGUI\addLegacyForm</text><text x="986" y="4671">ToAccordion</text></g>
<g id="D71" class="n"><rect x="900" y="4705" width="172" height="25"/><text x="986" y="4722">ilObjFolderGUI\editObject</text></g>
<g id="D72" class="n"><rect x="889" y="4755" width="195" height="25"/><text x="986.5" y="4772">ilObjGlossaryGUI\saveObject</text></g>
<g id="D73" class="n"><rect x="884" y="4807" width="205" height="40"/><text x="986.5" y="4823.5">ilObjGroupGUI\editMapSettings</text><text x="986.5" y="4839">Object</text></g>
<g id="D74" class="n"><rect x="890" y="4873" width="194" height="25"/><text x="987" y="4890">ilWikiPageGUI\insertWikiLink</text></g>
<g id="D75" class="n"><rect x="890" y="4924" width="192" height="25"/><text x="986" y="4941">ilObjGroupGUI\editInfoObject</text></g>
<g id="D76" class="n"><rect x="911" y="4975" width="151" height="40"/><text x="986.5" y="4991.5">ilChatroomHistoryGUI</text><text x="986.5" y="5007">\showMessages</text></g>
<g id="D77" class="n"><rect x="914" y="5385" width="146" height="40"/><text x="987" y="5401.5">ilObjMediaObjectGUI</text><text x="987" y="5417">\saveObject</text></g>
<g id="D78" class="n"><rect x="889" y="5621" width="195" height="40"/><text x="986.5" y="5637.5">ilExerciseManagementCollect</text><text x="986.5" y="5653">FilesJob\isExcelNeeded</text></g>
<g id="D79" class="n"><rect x="881" y="5936" width="211" height="40"/><text x="986.5" y="5952.5">ilAssFileUploadUploadsExporter</text><text x="986.5" y="5968">\buildAndDownload</text></g>
<g id="D80" class="n"><rect x="883" y="6038" width="207" height="25"/><text x="986.5" y="6055">ilCollectWorkspaceFilesJob\run</text></g>
<g id="D81" class="n"><rect x="897" y="6773" width="180" height="40"/><text x="987" y="6789.5">ilObjMediaCastGUI\update</text><text x="987" y="6805">CastItemObject</text></g>
<g id="D82" class="n"><rect x="889" y="6839" width="195" height="40"/><text x="986.5" y="6855.5">ilObjMediaCastGUI\saveCast</text><text x="986.5" y="6871">ItemObject</text></g>
<g id="F" class="n"><rect x="1148" y="286" width="239" height="40"/><text x="1267.5" y="302.5">ILIAS\COPage\Editor</text><text x="1267.5" y="318">\Server\UIWrapper\getRenderedForm</text></g>
<g id="E1" class="n"><rect x="1189" y="410" width="156" height="40"/><text x="1267" y="426.5">ilObjContentObjectGUI</text><text x="1267" y="442">\saveMenuEntry</text></g>
<g id="E2" class="n"><rect x="1189" y="475" width="157" height="40"/><text x="1267.5" y="491.5">ilObjContentObjectGUI</text><text x="1267.5" y="507">\updateMenuEntry</text></g>
<g id="E3" class="n"><rect x="1168" y="803" width="198" height="25"/><text x="1267" y="820">ilMailOptionsGUI\saveOptions</text></g>
<g id="E4" class="n"><rect x="1184" y="854" width="167" height="40"/><text x="1267.5" y="870.5">ilMailTemplateGUI\insert</text><text x="1267.5" y="886">Template</text></g>
<g id="E5" class="n"><rect x="1181" y="920" width="173" height="40"/><text x="1267.5" y="936.5">ilMailTemplateGUI\update</text><text x="1267.5" y="952">Template</text></g>
<g id="E6" class="n"><rect x="1180" y="1141" width="174" height="40"/><text x="1267" y="1157.5">ilObjectCustomUserFields</text><text x="1267" y="1173">GUI\saveMember</text></g>
<g id="E7" class="n"><rect x="1154" y="1207" width="226" height="25"/><text x="1267" y="1224">ilObjOrgUnitGUI\executeCommand</text></g>
<g id="E8" class="n"><rect x="1171" y="1257" width="193" height="25"/><text x="1267.5" y="1274">ilExtIdGUI\executeCommand</text></g>
<g id="E9" class="n"><rect x="1173" y="1309" width="189" height="40"/><text x="1267.5" y="1325.5">ilObjSCORMLearningModule</text><text x="1267.5" y="1341">GUI\importTracking</text></g>
<g id="E10" class="n"><rect x="1180" y="1374" width="174" height="40"/><text x="1267" y="1390.5">ilObjStudyProgrammeGUI</text><text x="1267" y="1406">\executeCommand</text></g>
<g id="E11" class="n"><rect x="1186" y="1439" width="163" height="40"/><text x="1267.5" y="1455.5">ilStyleCharacteristicGUI</text><text x="1267.5" y="1471">\refreshTagStyle</text></g>
<g id="E12" class="n"><rect x="1186" y="1505" width="163" height="40"/><text x="1267.5" y="1521.5">ilStyleCharacteristicGUI</text><text x="1267.5" y="1537">\updateTagStyle</text></g>
<g id="E13" class="n"><rect x="1186" y="1570" width="163" height="40"/><text x="1267.5" y="1586.5">ilStyleCharacteristicGUI</text><text x="1267.5" y="1602">\editTagStyle</text></g>
<g id="E14" class="n"><rect x="1164" y="1636" width="206" height="25"/><text x="1267" y="1653">assFileUploadGUI\editQuestion</text></g>
<g id="E15" class="n"><rect x="1195" y="1687" width="144" height="40"/><text x="1267" y="1703.5">assSingleChoiceGUI</text><text x="1267" y="1719">\editQuestion</text></g>
<g id="E16" class="n"><rect x="1191" y="1753" width="153" height="40"/><text x="1267.5" y="1769.5">assMultipleChoiceGUI</text><text x="1267.5" y="1785">\editQuestion</text></g>
<g id="E17" class="n"><rect x="1168" y="1818" width="198" height="25"/><text x="1267" y="1835">assErrorTextGUI\editQuestion</text></g>
<g id="E18" class="n"><rect x="1166" y="1868" width="204" height="25"/><text x="1268" y="1885">assLongMenuGUI\editQuestion</text></g>
<g id="E19" class="n"><rect x="1178" y="1921" width="179" height="40"/><text x="1267.5" y="1937.5">assImagemapQuestionGUI</text><text x="1267.5" y="1953">\editQuestion</text></g>
<g id="E20" class="n"><rect x="1182" y="1986" width="171" height="40"/><text x="1267.5" y="2002.5">assMatchingQuestionGUI</text><text x="1267.5" y="2018">\editQuestion</text></g>
<g id="E21" class="n"><rect x="1166" y="2246" width="204" height="25"/><text x="1268" y="2263">assClozeTestGUI\editQuestion</text></g>
<g id="E22" class="n"><rect x="1183" y="2298" width="168" height="40"/><text x="1267" y="2314.5">assOrderingQuestionGUI</text><text x="1267" y="2330">\editQuestion</text></g>
<g id="E23" class="n"><rect x="1174" y="2363" width="186" height="40"/><text x="1267" y="2379.5">assFormulaQuestionGUI</text><text x="1267" y="2395">\resetSavedPreviewSession</text></g>
<g id="E24" class="n"><rect x="1183" y="2429" width="168" height="40"/><text x="1267" y="2445.5">assOrderingQuestionGUI</text><text x="1267" y="2461">\writePostData</text></g>
<g id="E25" class="n"><rect x="1163" y="2555" width="209" height="40"/><text x="1267.5" y="2571.5">assOrderingQuestionGUI</text><text x="1267.5" y="2587">\buildEditFormAfterTypeChange</text></g>
<g id="E26" class="n"><rect x="1183" y="2637" width="168" height="40"/><text x="1267" y="2653.5">assOrderingQuestionGUI</text><text x="1267" y="2669">\editNesting</text></g>
<g id="E27" class="n"><rect x="1158" y="2734" width="219" height="25"/><text x="1267.5" y="2751">assKprimChoiceGUI\editQuestion</text></g>
<g id="E28" class="n"><rect x="1195" y="2786" width="145" height="40"/><text x="1267.5" y="2802.5">assTextQuestionGUI</text><text x="1267.5" y="2818">\editQuestion</text></g>
<g id="E29" class="n"><rect x="1180" y="2851" width="174" height="40"/><text x="1267" y="2867.5">assOrderingHorizontalGUI</text><text x="1267" y="2883">\editQuestion</text></g>
<g id="E30" class="n"><rect x="1162" y="2917" width="210" height="25"/><text x="1267" y="2934">assTextSubsetGUI\editQuestion</text></g>
<g id="E31" class="n"><rect x="1171" y="2967" width="193" height="25"/><text x="1267.5" y="2984">assNumericGUI\editQuestion</text></g>
<g id="E32" class="n"><rect x="1172" y="3020" width="191" height="40"/><text x="1267.5" y="3036.5">ilObjUserFolderGUI</text><text x="1267.5" y="3052">\saveNewAccountMailObject</text></g>
<g id="E33" class="n"><rect x="1163" y="3085" width="209" height="25"/><text x="1267.5" y="3102">ilCalendarAppointmentGUI\save</text></g>
<g id="E34" class="n"><rect x="1179" y="3137" width="177" height="40"/><text x="1267.5" y="3153.5">ilCalendarAppointmentGUI</text><text x="1267.5" y="3169">\editSingle</text></g>
<g id="E35" class="n"><rect x="1179" y="3202" width="177" height="40"/><text x="1267.5" y="3218.5">ilCalendarAppointmentGUI</text><text x="1267.5" y="3234">\update</text></g>
<g id="E36" class="n"><rect x="1179" y="3267" width="177" height="40"/><text x="1267.5" y="3283.5">ilCalendarAppointmentGUI</text><text x="1267.5" y="3299">\askEdit</text></g>
<g id="E37" class="n"><rect x="1173" y="3333" width="190" height="25"/><text x="1268" y="3350">ilCalendarCategoryGUI\save</text></g>
<g id="E38" class="n"><rect x="1189" y="3385" width="157" height="40"/><text x="1267.5" y="3401.5">ilCalendarCategoryGUI</text><text x="1267.5" y="3417">\update</text></g>
<g id="E39" class="n"><rect x="1166" y="3546" width="202" height="25"/><text x="1267" y="3563">ilCertificateGUI\certificateSave</text></g>
<g id="E40" class="n"><rect x="1180" y="3598" width="174" height="40"/><text x="1267" y="3614.5">ilChatroomAdminViewGUI</text><text x="1267" y="3630">\saveClientSettings</text></g>
<g id="E41" class="n"><rect x="1163" y="3663" width="209" height="40"/><text x="1267.5" y="3679.5">ilObjStudyProgrammeReference</text><text x="1267.5" y="3695">GUI\saveObject</text></g>
<g id="E42" class="n"><rect x="1183" y="3729" width="168" height="40"/><text x="1267" y="3745.5">ilContainerReferenceGUI</text><text x="1267" y="3761">\saveObject</text></g>
<g id="E43" class="n"><rect x="1195" y="3845" width="144" height="40"/><text x="1267" y="3861.5">ilPCMediaObjectGUI</text><text x="1267" y="3877">\insert_resetFilter</text></g>
<g id="E44" class="n"><rect x="1195" y="3911" width="144" height="40"/><text x="1267" y="3927.5">ilPCMediaObjectGUI</text><text x="1267" y="3943">\create</text></g>
<g id="E45" class="n"><rect x="1195" y="3976" width="144" height="40"/><text x="1267" y="3992.5">ilPCMediaObjectGUI</text><text x="1267" y="4008">\insert_applyFilter</text></g>
<g id="E46" class="n"><rect x="1195" y="4042" width="144" height="40"/><text x="1267" y="4058.5">ilPCMediaObjectGUI</text><text x="1267" y="4074">\saveStyle</text></g>
<g id="E47" class="n"><rect x="1173" y="4333" width="188" height="25"/><text x="1267" y="4350">ilCourseObjectivesGUI\save</text></g>
<g id="E48" class="n"><rect x="1189" y="4384" width="156" height="40"/><text x="1267" y="4400.5">ilCourseObjectivesGUI</text><text x="1267" y="4416">\saveRandom</text></g>
<g id="E49" class="n"><rect x="1173" y="4449" width="189" height="40"/><text x="1267.5" y="4465.5">ilCourseObjectivesGUI</text><text x="1267.5" y="4481">\selfAssessmentAssignment</text></g>
<g id="E50" class="n"><rect x="1189" y="4515" width="156" height="40"/><text x="1267" y="4531.5">ilCourseObjectivesGUI</text><text x="1267" y="4547">\finalTestAssignment</text></g>
<g id="E51" class="n"><rect x="1181" y="4914" width="172" height="40"/><text x="1267" y="4930.5">ilObjGroupGUI\updateInfo</text><text x="1267" y="4946">Object</text></g>
<g id="E52" class="n"><rect x="1192" y="4980" width="150" height="40"/><text x="1267" y="4996.5">ilChatroomHistoryGUI</text><text x="1267" y="5012">\byDayExport</text></g>
<g id="E53" class="n"><rect x="1162" y="5683" width="211" height="40"/><text x="1267.5" y="5699.5">ilExerciseManagementCollect</text><text x="1267.5" y="5715">FilesJob\collectAssignmentData</text></g>
<g id="P1" class="n"><rect x="1470" y="6" width="188" height="40"/><text x="1564" y="22.5">ilPCLayoutTemplateEditor</text><text x="1564" y="38">GUI\getEditComponentForm</text></g>
<g id="P2" class="n"><rect x="1474" y="123" width="179" height="40"/><text x="1563.5" y="139.5">ilPCMediaObjectEditorGUI</text><text x="1563.5" y="155">\getRenderedUploadForm</text></g>
<g id="P3" class="n"><rect x="1474" y="189" width="179" height="40"/><text x="1563.5" y="205.5">ilPCMediaObjectEditorGUI</text><text x="1563.5" y="221">\getRenderedUrlForm</text></g>
<g id="P4" class="n"><rect x="1476" y="254" width="176" height="40"/><text x="1564" y="270.5">ilPCPlaceHolderEditorGUI</text><text x="1564" y="286">\getEditComponentForm</text></g>
<g id="P5" class="n"><rect x="1479" y="320" width="169" height="40"/><text x="1563.5" y="336.5">ilPCResourcesEditorGUI</text><text x="1563.5" y="352">\getEditorElements</text></g>
<g id="P6" class="n"><rect x="1481" y="436" width="166" height="40"/><text x="1564" y="452.5">ilPCDataTableEditorGUI</text><text x="1564" y="468">\getCellInfo</text></g>
<g id="P7" class="n"><rect x="1469" y="502" width="190" height="40"/><text x="1564" y="518.5">ilPCTabsEditorGUI\getEditor</text><text x="1564" y="534">Elements</text></g>
<g id="P8" class="n"><rect x="1476" y="567" width="175" height="40"/><text x="1563.5" y="583.5">ilPCGridEditorGUI\getEdit</text><text x="1563.5" y="599">ComponentForm</text></g>
<g id="P9" class="n"><rect x="1455" y="840" width="217" height="25"/><text x="1563.5" y="857">assFileUploadGUI\writePostData</text></g>
<g id="P10" class="n"><rect x="1492" y="994" width="143" height="40"/><text x="1563.5" y="1010.5">assSingleChoiceGUI</text><text x="1563.5" y="1026">\writePostData</text></g>
<g id="P11" class="n"><rect x="1488" y="1263" width="152" height="40"/><text x="1564" y="1279.5">assMultipleChoiceGUI</text><text x="1564" y="1295">\writePostData</text></g>
<g id="P12" class="n"><rect x="1460" y="1479" width="208" height="25"/><text x="1564" y="1496">assErrorTextGUI\writePostData</text></g>
<g id="P13" class="n"><rect x="1457" y="1530" width="214" height="25"/><text x="1564" y="1547">assLongMenuGUI\writePostData</text></g>
<g id="P14" class="n"><rect x="1474" y="1582" width="180" height="40"/><text x="1564" y="1598.5">assImagemapQuestionGUI</text><text x="1564" y="1614">\writePostData</text></g>
<g id="P15" class="n"><rect x="1478" y="1902" width="172" height="40"/><text x="1564" y="1918.5">assMatchingQuestionGUI</text><text x="1564" y="1934">\writePostData</text></g>
<g id="P16" class="n"><rect x="1457" y="2271" width="214" height="25"/><text x="1564" y="2288">assClozeTestGUI\writePostData</text></g>
<g id="P17" class="n"><rect x="1479" y="2425" width="169" height="40"/><text x="1563.5" y="2441.5">assOrderingQuestionGUI</text><text x="1563.5" y="2457">\uploadElementImage</text></g>
<g id="P18" class="n"><rect x="1481" y="2490" width="166" height="40"/><text x="1564" y="2506.5">assFormulaQuestionGUI</text><text x="1564" y="2522">\writePostData</text></g>
<g id="P19" class="n"><rect x="1479" y="2555" width="169" height="40"/><text x="1563.5" y="2571.5">assOrderingQuestionGUI</text><text x="1563.5" y="2587">\changeToPictures</text></g>
<g id="P20" class="n"><rect x="1479" y="2620" width="169" height="40"/><text x="1563.5" y="2636.5">assOrderingQuestionGUI</text><text x="1563.5" y="2652">\changeToText</text></g>
<g id="P21" class="n"><rect x="1479" y="2685" width="169" height="40"/><text x="1563.5" y="2701.5">assOrderingQuestionGUI</text><text x="1563.5" y="2717">\saveNesting</text></g>
<g id="P22" class="n"><rect x="1450" y="2802" width="229" height="25"/><text x="1564.5" y="2819">assKprimChoiceGUI\writePostData</text></g>
<g id="P23" class="n"><rect x="1435" y="2853" width="258" height="25"/><text x="1564" y="2870">assKprimChoiceGUI\downkprimanswers</text></g>
<g id="P24" class="n"><rect x="1469" y="2904" width="189" height="40"/><text x="1563.5" y="2920.5">assKprimChoiceGUI\remove</text><text x="1563.5" y="2936">Image</text></g>
<g id="P25" class="n"><rect x="1443" y="2970" width="242" height="25"/><text x="1564" y="2987">assKprimChoiceGUI\upkprimanswers</text></g>
<g id="P26" class="n"><rect x="1491" y="3022" width="146" height="40"/><text x="1564" y="3038.5">assTextQuestionGUI</text><text x="1564" y="3054">\writePostData</text></g>
<g id="P27" class="n"><rect x="1476" y="3139" width="175" height="40"/><text x="1563.5" y="3155.5">assOrderingHorizontalGUI</text><text x="1563.5" y="3171">\writePostData</text></g>
<g id="P28" class="n"><rect x="1453" y="3256" width="222" height="25"/><text x="1564" y="3273">assTextSubsetGUI\writePostData</text></g>
<g id="P29" class="n"><rect x="1462" y="3356" width="203" height="25"/><text x="1563.5" y="3373">assNumericGUI\writePostData</text></g>
<g id="P30" class="n"><rect x="1491" y="3880" width="144" height="40"/><text x="1563" y="3896.5">ilPCMediaObjectGUI</text><text x="1563" y="3912">\create_mob</text></g>
<g id="P31" class="n"><rect x="1471" y="3945" width="186" height="40"/><text x="1564" y="3961.5">ilPCMediaObjectGUI</text><text x="1564" y="3977">\createNewObjectReference</text></g>
<g id="P32" class="n"><rect x="1449" y="4418" width="231" height="40"/><text x="1564.5" y="4434.5">ilCourseObjectivesGUI</text><text x="1564.5" y="4450">\updateSelfAssessmentAssignment</text></g>
<g id="P33" class="n"><rect x="1474" y="4483" width="180" height="40"/><text x="1564" y="4499.5">ilCourseObjectivesGUI</text><text x="1564" y="4515">\updateMaterialAssignment</text></g>
<g id="P34" class="n"><rect x="1466" y="4549" width="196" height="40"/><text x="1564" y="4565.5">ilCourseObjectivesGUI</text><text x="1564" y="4581">\updateSelfAssessmentLimits</text></g>
<g id="P35" class="n"><rect x="1470" y="4614" width="188" height="40"/><text x="1564" y="4630.5">ilCourseObjectivesGUI</text><text x="1564" y="4646">\updateFinalTestAssignment</text></g>
<g id="P36" class="n"><rect x="1467" y="5621" width="194" height="40"/><text x="1564" y="5637.5">ilExerciseManagementCollect</text><text x="1564" y="5653">FilesJob\run</text></g>
<g id="Q1" class="n"><rect x="1767" y="123" width="178" height="40"/><text x="1856" y="139.5">ilPCMediaObjectEditorGUI</text><text x="1856" y="155">\getEditorElements</text></g>
<g id="Q2" class="n"><rect x="1774" y="407" width="165" height="40"/><text x="1856.5" y="423.5">ilPCDataTableEditorGUI</text><text x="1856.5" y="439">\getEditorElements</text></g>
<g id="Q3" class="n"><rect x="1784" y="894" width="144" height="40"/><text x="1856" y="910.5">assSingleChoiceGUI</text><text x="1856" y="926">\uploadchoice</text></g>
<g id="Q4" class="n"><rect x="1784" y="962" width="144" height="40"/><text x="1856" y="978.5">assSingleChoiceGUI</text><text x="1856" y="994">\addchoice</text></g>
<g id="Q5" class="n"><rect x="1784" y="1032" width="144" height="40"/><text x="1856" y="1048.5">assSingleChoiceGUI</text><text x="1856" y="1064">\removechoice</text></g>
<g id="Q6" class="n"><rect x="1784" y="1101" width="144" height="40"/><text x="1856" y="1117.5">assSingleChoiceGUI</text><text x="1856" y="1133">\removeimagechoice</text></g>
<g id="Q7" class="n"><rect x="1780" y="1167" width="153" height="40"/><text x="1856.5" y="1183.5">assMultipleChoiceGUI</text><text x="1856.5" y="1199">\uploadchoice</text></g>
<g id="Q8" class="n"><rect x="1780" y="1234" width="153" height="40"/><text x="1856.5" y="1250.5">assMultipleChoiceGUI</text><text x="1856.5" y="1266">\addchoice</text></g>
<g id="Q9" class="n"><rect x="1780" y="1301" width="153" height="40"/><text x="1856.5" y="1317.5">assMultipleChoiceGUI</text><text x="1856.5" y="1333">\removechoice</text></g>
<g id="Q10" class="n"><rect x="1780" y="1370" width="153" height="40"/><text x="1856.5" y="1386.5">assMultipleChoiceGUI</text><text x="1856.5" y="1402">\removeimagechoice</text></g>
<g id="Q11" class="n"><rect x="1771" y="1458" width="171" height="25"/><text x="1856.5" y="1475">assErrorTextGUI\analyze</text></g>
<g id="Q12" class="n"><rect x="1771" y="1608" width="172" height="40"/><text x="1857" y="1624.5">assMatchingQuestionGUI</text><text x="1857" y="1640">\removeimageterms</text></g>
<g id="Q13" class="n"><rect x="1771" y="1673" width="172" height="40"/><text x="1857" y="1689.5">assMatchingQuestionGUI</text><text x="1857" y="1705">\removepairs</text></g>
<g id="Q14" class="n"><rect x="1771" y="1739" width="172" height="40"/><text x="1857" y="1755.5">assMatchingQuestionGUI</text><text x="1857" y="1771">\removeterms</text></g>
<g id="Q15" class="n"><rect x="1771" y="1804" width="172" height="40"/><text x="1857" y="1820.5">assMatchingQuestionGUI</text><text x="1857" y="1836">\uploaddefinitions</text></g>
<g id="Q16" class="n"><rect x="1771" y="1869" width="172" height="40"/><text x="1857" y="1885.5">assMatchingQuestionGUI</text><text x="1857" y="1901">\uploadterms</text></g>
<g id="Q17" class="n"><rect x="1771" y="1935" width="172" height="40"/><text x="1857" y="1951.5">assMatchingQuestionGUI</text><text x="1857" y="1967">\adddefinitions</text></g>
<g id="Q18" class="n"><rect x="1771" y="2000" width="172" height="40"/><text x="1857" y="2016.5">assMatchingQuestionGUI</text><text x="1857" y="2032">\addpairs</text></g>
<g id="Q19" class="n"><rect x="1771" y="2066" width="172" height="40"/><text x="1857" y="2082.5">assMatchingQuestionGUI</text><text x="1857" y="2098">\addterms</text></g>
<g id="Q20" class="n"><rect x="1771" y="2131" width="172" height="40"/><text x="1857" y="2147.5">assMatchingQuestionGUI</text><text x="1857" y="2163">\removedefinitions</text></g>
<g id="Q21" class="n"><rect x="1771" y="2197" width="172" height="40"/><text x="1857" y="2213.5">assMatchingQuestionGUI</text><text x="1857" y="2229">\removeimagedefinitions</text></g>
<g id="Q22" class="n"><rect x="1759" y="2263" width="195" height="25"/><text x="1856.5" y="2280">assClozeTestGUI\removegap</text></g>
<g id="Q23" class="n"><rect x="1771" y="2317" width="172" height="25"/><text x="1857" y="2334">assClozeTestGUI\addgap</text></g>
<g id="Q24" class="n"><rect x="1758" y="2370" width="198" height="25"/><text x="1857" y="2387">assClozeTestGUI\createGaps</text></g>
<g id="Q25" class="n"><rect x="1772" y="2425" width="168" height="40"/><text x="1856" y="2441.5">assOrderingQuestionGUI</text><text x="1856" y="2457">\removeElementImage</text></g>
<g id="Q26" class="n"><rect x="1772" y="2490" width="168" height="40"/><text x="1856" y="2506.5">assFormulaQuestionGUI</text><text x="1856" y="2522">\suggestRange</text></g>
<g id="Q27" class="n"><rect x="1772" y="2555" width="168" height="40"/><text x="1856" y="2571.5">assFormulaQuestionGUI</text><text x="1856" y="2587">\parseQuestion</text></g>
<g id="Q28" class="n"><rect x="1765" y="2770" width="184" height="40"/><text x="1857" y="2786.5">assKprimChoiceGUI\upload</text><text x="1857" y="2802">Image</text></g>
<g id="Q29" class="n"><rect x="1779" y="3051" width="156" height="40"/><text x="1857" y="3067.5">assTextQuestionGUI</text><text x="1857" y="3083">\addSuggestedSolution</text></g>
<g id="Q30" class="n"><rect x="1741" y="3231" width="232" height="25"/><text x="1857" y="3248">assTextSubsetGUI\removeanswers</text></g>
<g id="Q31" class="n"><rect x="1753" y="3281" width="208" height="25"/><text x="1857" y="3298">assTextSubsetGUI\addanswers</text></g>
</g>
</g>
</svg>
